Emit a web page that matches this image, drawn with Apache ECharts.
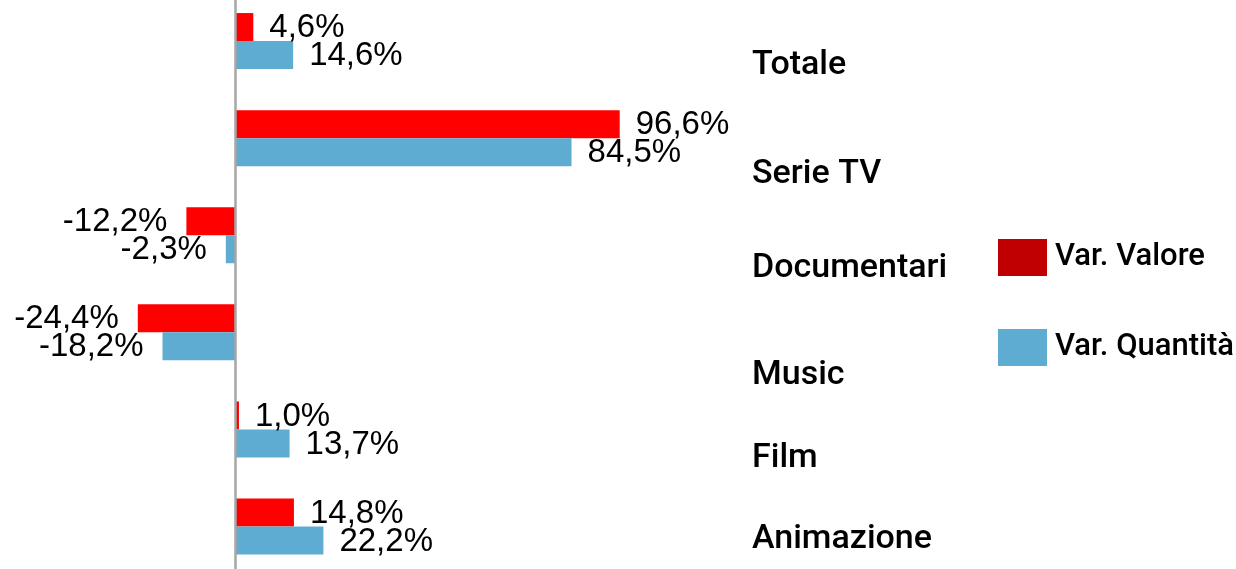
<!DOCTYPE html>
<html>
<head>
<meta charset="utf-8">
<script src="https://cdn.jsdelivr.net/npm/echarts@6/dist/echarts.min.js"></script>
<style>
html,body{margin:0;padding:0;background:#fff;}
#chart{width:1236px;height:569px;}
</style>
</head>
<body>
<div id="chart"></div>
<script>
const categories = ['Totale', 'Serie TV', 'Documentari', 'Music', 'Film', 'Animazione'];
const seriesNames = ['Var. Valore', 'Var. Quantità'];
const valore = [4.6, 96.6, -12.2, -24.4, 1.0, 14.8];
const quantita = [14.6, 84.5, -2.3, -18.2, 13.7, 22.2];

// vertical offsets (px) of each category label relative to its band centre
const labelOffsets = [24, 36, 33, 43, 29, 13];

const RED = '#FF0000', BLUE = '#5EACD2', LEGEND_RED = '#C00000';

function fmt(v) { return v.toFixed(1).replace('.', ',') + '%'; }
function items(arr) {
  return arr.map(v => ({
    value: v,
    label: { position: v < 0 ? 'left' : 'right', distance: v < 0 ? 19 : 16 }
  }));
}

const rich = {};
labelOffsets.forEach((o, i) => {
  rich['c' + i] = {
    fontFamily: 'Roboto', fontWeight: 500, fontSize: 34, color: '#000',
    padding: [Math.max(0, 2 * o), 0, Math.max(0, -2 * o), 0]
  };
});

const chart = echarts.init(document.getElementById('chart'), null, { renderer: 'canvas' });
chart.setOption({
  animation: false,
  backgroundColor: '#fff',
  grid: { left: 0, top: -7.5, width: 740, height: 582.6, containLabel: false, outerBoundsMode: 'none' },
  legend: {
    orient: 'vertical', left: 998, top: 239, padding: 0,
    itemWidth: 49, itemHeight: 37, itemGap: 53,
    icon: 'rect',
    textStyle: { fontFamily: 'Roboto', fontWeight: 500, fontSize: 31, color: '#000', padding: [0, 0, 0, 3] },
    data: [
      { name: seriesNames[0], itemStyle: { color: LEGEND_RED } },
      { name: seriesNames[1], itemStyle: { color: BLUE } }
    ]
  },
  xAxis: { type: 'value', min: -59, max: 126.8, show: false },
  yAxis: [
    {
      type: 'category', data: categories, inverse: true, position: 'left', z: 5,
      axisLine: { show: true, onZero: true, lineStyle: { color: '#A6A6A6', width: 2.5 } },
      axisTick: { show: false }, axisLabel: { show: false }, splitLine: { show: false }
    },
    {
      type: 'category', data: categories, inverse: true, position: 'right',
      axisLine: { show: false, onZero: false }, axisTick: { show: false }, splitLine: { show: false },
      axisLabel: {
        margin: 12, align: 'left',
        formatter: (v, i) => '{c' + i + '|' + v + '}',
        rich: rich
      }
    }
  ],
  series: [
    {
      name: seriesNames[0], type: 'bar', yAxisIndex: 0, data: items(valore),
      barWidth: 28, barGap: '0%', itemStyle: { color: RED },
      label: { show: true, formatter: p => fmt(p.value), fontFamily: 'Liberation Sans', fontSize: 33, color: '#000', offset: [0, 1] }
    },
    {
      name: seriesNames[1], type: 'bar', yAxisIndex: 0, data: items(quantita),
      barWidth: 28, barGap: '0%', itemStyle: { color: BLUE },
      label: { show: true, formatter: p => fmt(p.value), fontFamily: 'Liberation Sans', fontSize: 33, color: '#000', offset: [0, 1] }
    }
  ]
});
</script>
</body>
</html>
